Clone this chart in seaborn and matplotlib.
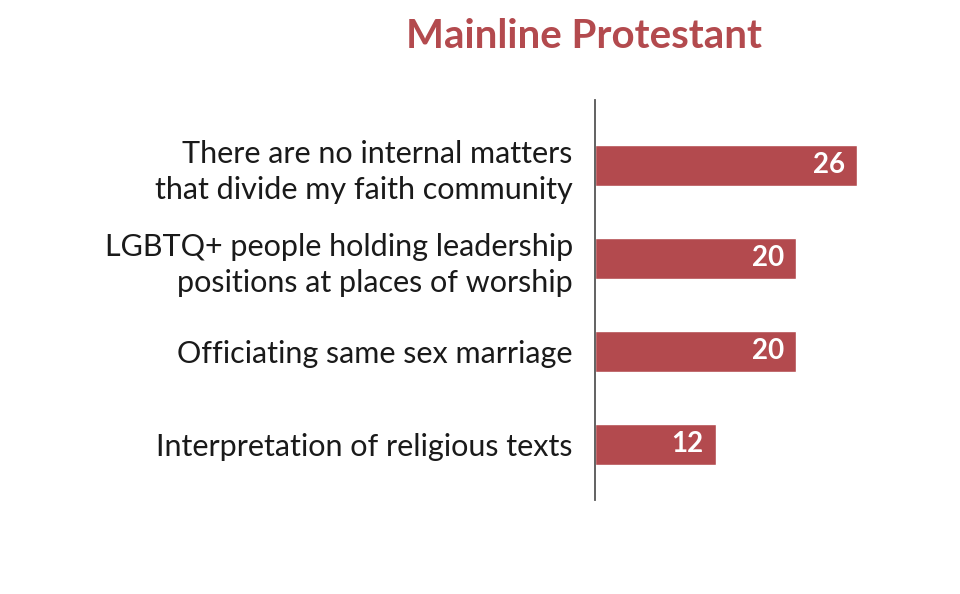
import matplotlib
matplotlib.use("Agg")
import matplotlib.pyplot as plt
import seaborn as sns
import pandas as pd

categories = [
    "There are no internal matters\nthat divide my faith community",
    "LGBTQ+ people holding leadership\npositions at places of worship",
    "Officiating same sex marriage",
    "Interpretation of religious texts",
]
values = [26, 20, 20, 12]
title = "Mainline Protestant"
bar_color = "#B34A4E"

sns.set_theme(style="white")
plt.rcParams['font.family'] = ['Lato', 'DejaVu Sans']

df = pd.DataFrame({"cat": categories, "val": values})

fig = plt.figure(figsize=(9.6, 5.94), dpi=100)
ax = fig.add_axes([595/960, 94/594, 330/960, 400/594])
sns.barplot(data=df, x="val", y="cat", orient="h", color=bar_color,
            saturation=1, width=0.44, ax=ax)

ax.set_xlim(0, 330/10.07)
ax.set_ylim(3.6, -0.7)
ax.set_xlabel("")
ax.set_ylabel("")
ax.set_xticks([])
for s in ["top", "right", "bottom"]:
    ax.spines[s].set_visible(False)
ax.spines["left"].set_color("#555555")
ax.spines["left"].set_linewidth(1.3)
ax.tick_params(axis="y", length=0, pad=16)
for lab in ax.get_yticklabels():
    lab.set_fontsize(22)
    lab.set_color("#1a1a1a")
    lab.set_linespacing(1.35)

for i, v in enumerate(values):
    ax.text(v - 1.2, i, str(v), ha="right", va="center", color="white",
            fontsize=20, fontweight="bold")

fig.text(584/960, 1 - 36/594, title, ha="center", va="center",
         color=bar_color, fontsize=29, fontweight="bold")

fig.savefig("out.png", dpi=100)
